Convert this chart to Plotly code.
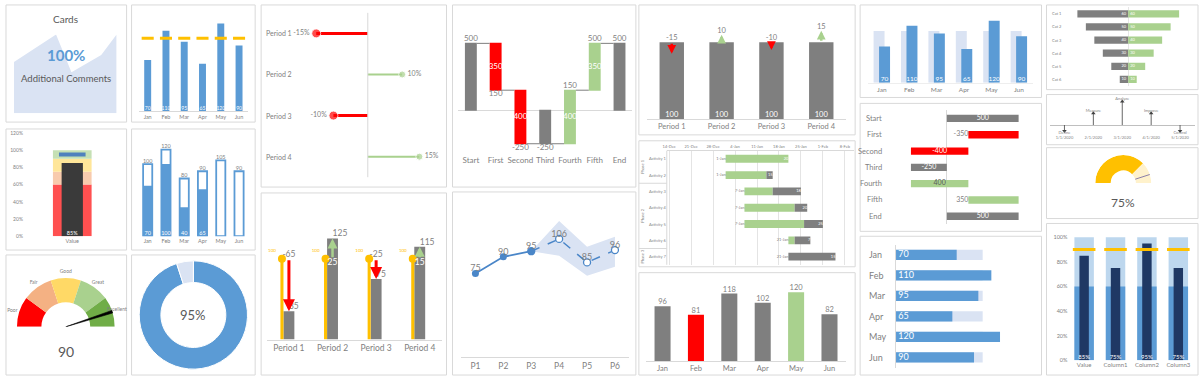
import numpy as np
import pandas as pd
import plotly.graph_objects as go

W, H = 1200, 380
FONT = "Lato"
TXT = "#595959"
TXT2 = "#7f7f7f"
LINE = "#d9d9d9"
BLUE = "#5b9bd5"
PALE = "#dae3f3"
RED = "#ff0000"
GREEN = "#a9d18e"
GREY = "#7f7f7f"
GOLD = "#ffc000"

# ------------------------------------------------------------------ data
card_title = "Cards"
card_value = "100%"
card_comment = "Additional Comments"
card_x = [0, 41, 56, 85, 100]
card_y = [65, 100, 52, 74, 100]

months = ["Jan", "Feb", "Mar", "Apr", "May", "Jun"]
month_values = [70, 110, 95, 65, 120, 90]
month_target = 100

thermo_label = "Value"
thermo_bands = [0, 0.60, 0.75, 0.90, 1.00]
thermo_band_colors = ["#ff5050", "#f8cbad", "#ffe699", "#c5e0b4"]
thermo_value = 0.85
thermo_target = 0.95
thermo_ticks = [0, 0.2, 0.4, 0.6, 0.8, 1.0, 1.2]

outline_totals = [100, 120, 80, 90, 105, 90]
outline_filled = [70, 100, 40, 65, 0, 0]

gauge_labels = ["Poor", "Fair", "Good", "Great", "Excellent"]
gauge_colors = ["#ff0000", "#f4b183", "#ffd966", "#a9d18e", "#70ad47"]
gauge_value = 90

donut_value = 95

periods = ["Period 1", "Period 2", "Period 3", "Period 4"]
lollipop_values = [-0.15, 0.10, -0.10, 0.15]

arrow_target = 100
arrow_actual = [35, 125, 75, 115]

wf_cats = ["Start", "First", "Second", "Third", "Fourth", "Fifth", "End"]
wf_values = [500, -350, -400, -250, 400, 350, 500]
wf_measure = ["absolute", "relative", "relative", "total", "relative", "relative", "total"]

line_cats = ["P1", "P2", "P3", "P4", "P5", "P6"]
line_actual = [75, 90, 95, None, None, None]
line_forecast = [None, None, 95, 106, 85, 96]
band_upper = [None, None, 95, 122, 99, 108]
band_lower = [None, None, 95, 91, 73, 81]

change_base = [100, 100, 100, 100]
change_delta = [-15, 10, -10, 15]

gantt_tasks = ["Activity 1", "Activity 2", "Activity 3", "Activity 4", "Activity 5", "Activity 6", "Activity 7"]
gantt_phase = ["Phase 1", "Phase 1", "Phase 2", "Phase 2", "Phase 2", "Phase 2", "Phase 3"]
gantt_start = ["2016-01-01", "2016-01-01", "2016-01-07", "2016-01-07", "2016-01-07", "2016-01-21", "2016-01-21"]
gantt_days = [20, 15, 18, 20, 25, 7, 15]
gantt_done = [20, 13, 9, 16, 19, 2, 0]
gantt_first_tick = "2015-12-14"

month_values2 = [96, 81, 118, 102, 120, 82]

funnel_cats = ["Cat 1", "Cat 2", "Cat 3", "Cat 4", "Cat 5", "Cat 6"]
funnel_left = [60, 50, 40, 30, 20, 10]
funnel_right = [60, 50, 40, 30, 20, 10]

timeline_events = ["Define", "Measure", "Analyze", "Improve", "Control"]
timeline_dates = ["1/1/2020", "2/1/2020", "3/1/2020", "4/1/2020", "5/1/2020"]
timeline_heights = [-0.3, 0.6, 1.2, 0.6, -0.3]

half_value = 75
half_target = 90

bullet_cats = ["Value", "Column1", "Column2", "Column3"]
bullet_values = [0.85, 0.75, 0.95, 0.75]
bullet_target = 0.90
bullet_band = 0.60
bullet_max = 1.00
bullet_ticks = [0, 0.2, 0.4, 0.6, 0.8, 1.0]

# ------------------------------------------------------------------ helpers
layout = {}
traces = []
annotations = []
shapes = []


def X(px):
    return px / W


def Y(py):
    return 1 - py / H


def axes(n, x0, x1, y0, y1, xr, yr, xopt=None, yopt=None):
    base = dict(showgrid=False, zeroline=False, showticklabels=False, ticks="",
                showline=False, fixedrange=True, linecolor=LINE, tickangle=0,
                tickfont=dict(size=6, color=TXT2, family=FONT))
    xs = "x" if n == 1 else f"x{n}"
    ys = "y" if n == 1 else f"y{n}"
    xa = dict(base, domain=[X(x0), X(x1)], range=xr, anchor=ys)
    ya = dict(base, domain=[Y(y1), Y(y0)], range=yr, anchor=xs)
    if xopt:
        xa.update(xopt)
    if yopt:
        ya.update(yopt)
    layout["xaxis" if n == 1 else f"xaxis{n}"] = xa
    layout["yaxis" if n == 1 else f"yaxis{n}"] = ya
    return xs, ys


def tfont(size, color=TXT2):
    return dict(size=size, color=color, family=FONT)


def ann(px, py, text, size, color=TXT, **kw):
    kw.setdefault("xanchor", "center")
    kw.setdefault("yanchor", "middle")
    annotations.append(dict(x=X(px), y=Y(py), xref="paper", yref="paper", text=text,
                            showarrow=False, font=tfont(size, color), **kw))


def label(xa, ya, x, y, text, pos, size, color=TXT2):
    traces.append(go.Scatter(x=list(x), y=list(y), text=list(text), mode="text",
                             textposition=pos, textfont=tfont(size, color),
                             xaxis=xa, yaxis=ya, cliponaxis=False, hoverinfo="skip"))


def bar(xa, ya, **kw):
    if "marker" not in kw:
        kw.setdefault("marker_line_width", 0)
    traces.append(go.Bar(xaxis=xa, yaxis=ya, hoverinfo="skip", **kw))


# panel frames
panels = [
    (2, 2, 123, 121), (128, 2, 252, 121),
    (2, 128, 123, 251), (128, 128, 252, 251),
    (2, 256, 123, 378), (128, 256, 252, 378),
    (258, 2, 444, 187), (258, 193, 444, 378),
    (450, 2, 634, 187), (450, 192, 634, 378),
    (637, 2, 854, 134), (637, 140, 854, 268), (637, 274, 854, 378),
    (859, 2, 1041, 96), (859, 102, 1041, 232), (859, 237, 1041, 378),
    (1046, 2, 1198, 88), (1046, 93, 1198, 144), (1046, 147, 1198, 219), (1046, 224, 1198, 378),
]
for (a, b, c, d) in panels:
    shapes.append(dict(type="rect", xref="paper", yref="paper", x0=X(a), x1=X(c), y0=Y(d), y1=Y(b),
                       line=dict(color=LINE, width=1), fillcolor="white", layer="below"))

# ------------------------------------------------------------------ 1 card
xa, ya = axes(1, 10, 113, 32, 112, [0, 100], [0, 100])
traces.append(go.Scatter(x=card_x, y=card_y, mode="lines", fill="tozeroy", fillcolor=PALE,
                         line=dict(width=0, color=PALE), xaxis=xa, yaxis=ya, hoverinfo="skip"))
ann(62, 16, card_title, 10, TXT)
ann(62, 53, f"<b>{card_value}</b>", 15, BLUE)
ann(62, 77, card_comment, 9.5, TXT)

# ------------------------------------------------------------------ 2 bars + target
idx6 = list(range(len(months)))
xa, ya = axes(2, 135, 245, 12, 110, [-0.5, 5.5], [0, 131.9],
              xopt=dict(showticklabels=True, tickvals=idx6, ticktext=months,
                        tickfont=tfont(5.5), showline=True))
bar(xa, ya, x=idx6, y=month_values, width=0.38, marker_color=BLUE)
tx, ty = [], []
for i in idx6:
    tx += [i - 0.33, i + 0.33, None]
    ty += [month_target, month_target, None]
traces.append(go.Scatter(x=tx, y=ty, mode="lines", line=dict(color=GOLD, width=3),
                         xaxis=xa, yaxis=ya, hoverinfo="skip"))
label(xa, ya, idx6, [0] * 6, [str(v) for v in month_values], "top center", 5, "white")

# ------------------------------------------------------------------ 3 thermometer bullet
xa, ya = axes(3, 20, 117, 132, 237, [-0.5, 0.5], [0, 1.2],
              xopt=dict(showticklabels=True, tickvals=[0], ticktext=[thermo_label], tickfont=tfont(5.5)),
              yopt=dict(showticklabels=True, tickvals=thermo_ticks, tickformat=".0%", tickfont=tfont(5)))
bar(xa, ya, x=[0] * 4, y=list(np.diff(thermo_bands)), base=thermo_bands[:-1], width=0.4,
    marker_color=thermo_band_colors)
bar(xa, ya, x=[0], y=[thermo_value], width=0.22, marker_color="#3a3a3a")
traces.append(go.Scatter(x=[0], y=[thermo_target], mode="markers", xaxis=xa, yaxis=ya,
                         marker=dict(symbol="line-ew", size=19, line=dict(width=4, color="#4f81bd")),
                         hoverinfo="skip"))
label(xa, ya, [0], [0], [f"{thermo_value:.0%}"], "top center", 5.5, "white")

# ------------------------------------------------------------------ 4 outlined bars
xa, ya = axes(4, 135, 245, 135, 237, [-0.5, 5.5], [0, 139],
              xopt=dict(showticklabels=True, tickvals=idx6, ticktext=months, tickfont=tfont(5.5)))
bar(xa, ya, x=idx6, y=outline_filled, width=0.5, marker_color=BLUE)
bar(xa, ya, x=idx6, y=outline_totals, width=0.5,
    marker=dict(color="rgba(0,0,0,0)", line=dict(color=BLUE, width=1.8)))
label(xa, ya, idx6, outline_totals, [str(v) for v in outline_totals], "top center", 5.5, TXT2)
label(xa, ya, idx6, [0] * 6, [str(v) if v else "" for v in outline_filled], "top center", 5.5, "white")

# ------------------------------------------------------------------ 5 gauge
seg = 180 / len(gauge_labels)
theta = [(i + 0.5) * seg for i in range(len(gauge_labels))]
layout["polar"] = dict(domain=dict(x=[X(0), X(124)], y=[Y(329), Y(267)]), sector=[0, 180],
                       bgcolor="rgba(0,0,0,0)",
                       radialaxis=dict(visible=False, range=[0, 1.25]),
                       angularaxis=dict(visible=False, direction="clockwise", rotation=180))
traces.append(go.Barpolar(r=[0.5] * 5, base=0.5, theta=theta, width=[seg] * 5,
                          marker=dict(color=gauge_colors, line=dict(width=0)), subplot="polar",
                          hoverinfo="skip"))
g_r = [1.04, 1.12, 1.12, 1.12, 1.1]
g_pos = ["middle left", "middle center", "middle center", "middle center", "middle center"]
traces.append(go.Scatterpolar(r=g_r, theta=theta, text=gauge_labels, mode="text", textposition=g_pos,
                              textfont=tfont(5), subplot="polar", cliponaxis=False, hoverinfo="skip"))
nt = gauge_value / 100 * 180
traces.append(go.Scatterpolar(r=[0, 1, 1, 0], theta=[nt, nt - 1.6, nt + 1.6, nt], mode="lines",
                              fill="toself", fillcolor="#000000", line=dict(color="#000000", width=0.6),
                              subplot="polar", hoverinfo="skip"))
ann(62, 354, str(gauge_value), 14, TXT)

# ------------------------------------------------------------------ 6 donut
traces.append(go.Pie(values=[donut_value, 100 - donut_value], hole=0.6, sort=False,
                     direction="clockwise", rotation=0, textinfo="none", hoverinfo="skip",
                     marker=dict(colors=[BLUE, PALE], line=dict(color="white", width=1)),
                     domain=dict(x=[X(135), X(245)], y=[Y(372), Y(262)]), showlegend=False))
ann(190, 317, f"{donut_value}%", 13, TXT)

# ------------------------------------------------------------------ 7 lollipop
xa, ya = axes(7, 280, 440, 10, 177, [-0.2464, 0.2174], [3.5, -0.5])
shapes.append(dict(type="line", xref=xa, yref=f"{ya} domain", x0=0, x1=0, y0=0, y1=1,
                   line=dict(color=LINE, width=1)))
for i, v in enumerate(lollipop_values):
    neg = v < 0
    col = RED if neg else GREEN
    traces.append(go.Scatter(x=[0, v], y=[i, i], mode="lines+markers+text",
                             line=dict(color=col, width=3 if neg else 2),
                             marker=dict(size=[0, 9 if neg else 7], color=col),
                             text=["", f"{v:.0%}"], textposition="middle left" if neg else "middle right",
                             textfont=tfont(7), xaxis=xa, yaxis=ya, cliponaxis=False, hoverinfo="skip"))
    annotations.append(dict(x=X(261), y=i, xref="paper", yref=ya, text=periods[i], showarrow=False,
                            xanchor="left", font=tfont(7, TXT2)))

# ------------------------------------------------------------------ 8 target vs actual with arrows
idx4 = list(range(len(periods)))
xa, ya = axes(8, 264, 439, 200, 342, [-0.5, 3.5], [0, 173],
              xopt=dict(showticklabels=True, tickvals=idx4, ticktext=periods, tickfont=tfont(8.5),
                        showline=True))
bar(xa, ya, x=idx4, y=arrow_actual, width=0.25, marker_color=GREY)
tgt_x = [i - 0.16 for i in idx4]
bar(xa, ya, x=tgt_x, y=[arrow_target] * 4, width=0.07, marker_color=GOLD)
traces.append(go.Scatter(x=tgt_x, y=[arrow_target] * 4, mode="markers+text", text=[str(arrow_target)] * 4,
                         textposition="top left", textfont=tfont(4.5, GOLD),
                         marker=dict(size=8, color=GOLD), xaxis=xa, yaxis=ya, cliponaxis=False,
                         hoverinfo="skip"))
for i, a in enumerate(arrow_actual):
    d = a - arrow_target
    up = d > 0
    annotations.append(dict(x=i, y=a, ax=i, ay=arrow_target, xref=xa, yref=ya, axref=xa, ayref=ya,
                            text="", showarrow=True, arrowhead=2, arrowsize=0.8,
                            arrowwidth=2.5 if up else 3, arrowcolor=GREEN if up else RED, standoff=0))
    if up:
        label(xa, ya, [i], [arrow_target], [str(d)], "bottom center", 8.5, "white")
    else:
        label(xa, ya, [i], [arrow_target], [str(d)], "top center", 8.5, TXT2)
    label(xa, ya, [i], [a], [str(a)], "top right", 8.5, TXT2)

# ------------------------------------------------------------------ 9 waterfall
idx7 = list(range(len(wf_cats)))
run, starts, ends = 0, [], []
for v, m in zip(wf_values, wf_measure):
    if m == "absolute":
        s, run = 0, v
    elif m == "relative":
        s, run = run, run + v
    else:
        s = 0
    starts.append(s)
    ends.append(run)
xa, ya = axes(9, 456, 630, 10, 153, [-0.5, 6.5], [-323.5, 728],
              xopt=dict(showticklabels=True, tickvals=idx7, ticktext=wf_cats, tickfont=tfont(8)),
              yopt=dict(zeroline=True, zerolinecolor=LINE, zerolinewidth=1))
traces.append(go.Waterfall(x=idx7, y=wf_values, measure=wf_measure, width=0.48, xaxis=xa, yaxis=ya,
                           increasing=dict(marker=dict(color=GREEN)),
                           decreasing=dict(marker=dict(color=RED)),
                           totals=dict(marker=dict(color=GREY)),
                           connector=dict(line=dict(color=GREY, width=1)),
                           textinfo="none", hoverinfo="skip"))
label(xa, ya, idx7, ends, [str(e) for e in ends],
      ["top center" if e >= s else "bottom center" for s, e in zip(starts, ends)], 8, TXT2)
mid_i = [i for i, m in enumerate(wf_measure) if m == "relative"]
label(xa, ya, mid_i, [(starts[i] + ends[i]) / 2 for i in mid_i], [str(abs(wf_values[i])) for i in mid_i],
      "middle center", 8, "white")

# ------------------------------------------------------------------ 10 line with forecast band
xa, ya = axes(10, 459, 627, 200, 360, [-0.5, 5.5], [0, 141],
              xopt=dict(showticklabels=True, tickvals=idx6, ticktext=line_cats, tickfont=tfont(8.5),
                        showline=True))
bi = [i for i, u in enumerate(band_upper) if u is not None]
traces.append(go.Scatter(x=bi + bi[::-1], y=[band_upper[i] for i in bi] + [band_lower[i] for i in bi[::-1]],
                         fill="toself", fillcolor=PALE, line=dict(width=0), mode="lines",
                         xaxis=xa, yaxis=ya, hoverinfo="skip"))
LB = "#4a86c8"
traces.append(go.Scatter(x=idx6, y=line_forecast, mode="lines+markers", line=dict(color=LB, width=1.5, dash="dash"),
                         marker=dict(size=7, color="white", line=dict(color=LB, width=1.3)),
                         xaxis=xa, yaxis=ya, hoverinfo="skip"))
traces.append(go.Scatter(x=idx6, y=line_actual, mode="lines+markers", line=dict(color=LB, width=1.8),
                         marker=dict(size=7, color=LB), xaxis=xa, yaxis=ya, hoverinfo="skip"))
allv = [a if a is not None else f for a, f in zip(line_actual, line_forecast)]
label(xa, ya, idx6, allv, [str(v) for v in allv], "top center", 9, TXT2)

# ------------------------------------------------------------------ 11 bars with change arrows
xa, ya = axes(11, 645, 845, 8, 118, [-0.5, 3.5], [0, 141],
              xopt=dict(showticklabels=True, tickvals=idx4, ticktext=periods, tickfont=tfont(7.5),
                        showline=True))
bar(xa, ya, x=idx4, y=change_base, width=0.49, marker_color=GREY)
label(xa, ya, idx4, [0] * 4, [str(v) for v in change_base], "top center", 7.5, "white")
for i, (b, d) in enumerate(zip(change_base, change_delta)):
    up = d > 0
    annotations.append(dict(x=i, y=b + d, ax=i, ay=b, xref=xa, yref=ya, axref=xa, ayref=ya,
                            text="", showarrow=True, arrowhead=2, arrowsize=0.7, arrowwidth=2.5,
                            arrowcolor=GREEN if up else RED, standoff=0))
    label(xa, ya, [i], [max(b, b + d)], [str(d)], "top center", 7.5, TXT2)

# ------------------------------------------------------------------ 12 gantt
DAY = 86400000
rows7 = list(range(len(gantt_tasks)))
st = pd.to_datetime(gantt_start)
mid = st + pd.to_timedelta(gantt_done, unit="D")
en = st + pd.to_timedelta(gantt_days, unit="D")
xa, ya = axes(12, 665, 853, 150, 266, ["2015-12-13 06:00", "2016-02-10 23:00"], [6.5, -0.5],
              xopt=dict(type="date", side="top", showticklabels=True, tickformat="%-d-%b",
                        tick0=gantt_first_tick, dtick=7 * DAY, showgrid=True, gridcolor="#e4e4e4",
                        gridwidth=1, tickfont=tfont(4), showline=True))
bar(xa, ya, orientation="h", y=rows7, x=[d * DAY for d in gantt_done], base=st.strftime("%Y-%m-%d"),
    width=0.48, marker_color=GREEN)
bar(xa, ya, orientation="h", y=rows7, x=[(t - d) * DAY for t, d in zip(gantt_days, gantt_done)],
    base=mid.strftime("%Y-%m-%d"), width=0.48, marker_color=GREY)
label(xa, ya, en.strftime("%Y-%m-%d"), rows7, [str(d) for d in gantt_days], "middle left", 4, "white")
label(xa, ya, st.strftime("%Y-%m-%d"), rows7, [s.strftime("%-d-%b") for s in st], "middle left", 4, TXT2)
for i, t in enumerate(gantt_tasks):
    annotations.append(dict(x=X(656), y=i, xref="paper", yref=ya, text=t, showarrow=False,
                            xanchor="center", font=tfont(4, TXT2)))
phases = list(dict.fromkeys(gantt_phase))
for p in phases:
    r = [i for i, q in enumerate(gantt_phase) if q == p]
    annotations.append(dict(x=X(641), y=float(np.mean(r)), xref="paper", yref=ya, text=p, showarrow=False,
                            xanchor="center", textangle=-90, font=tfont(4, TXT2)))
for i in range(1, len(gantt_phase)):
    if gantt_phase[i] != gantt_phase[i - 1]:
        shapes.append(dict(type="line", xref="paper", yref=ya, x0=X(637), x1=X(665), y0=i - 0.5, y1=i - 0.5,
                           line=dict(color=LINE, width=1)))
shapes.append(dict(type="line", xref="paper", yref="paper", x0=X(665), x1=X(665), y0=Y(266), y1=Y(150),
                   line=dict(color=LINE, width=1)))

# ------------------------------------------------------------------ 13 highlighted bars
xa, ya = axes(13, 644, 845, 280, 364, [-0.5, 5.5], [0, 144],
              xopt=dict(showticklabels=True, tickvals=idx6, ticktext=months, tickfont=tfont(7.5),
                        showline=True))
mx, mn = max(month_values2), min(month_values2)
cols13 = [GREEN if v == mx else RED if v == mn else GREY for v in month_values2]
bar(xa, ya, x=idx6, y=month_values2, width=0.48, marker_color=cols13)
label(xa, ya, idx6, month_values2, [str(v) for v in month_values2], "top center", 7.5, TXT2)

# ------------------------------------------------------------------ 14 bars over target background
xa, ya = axes(14, 867, 1032, 8, 81, [-0.5, 5.5], [0, 139],
              xopt=dict(showticklabels=True, tickvals=idx6, ticktext=months, tickfont=tfont(6.5),
                        showline=True, linecolor="#eeeeee"))
bar(xa, ya, x=[i - 0.1 for i in idx6], y=[month_target] * 6, width=0.4, marker_color=PALE)
bar(xa, ya, x=[i + 0.1 for i in idx6], y=month_values, width=0.4, marker_color=BLUE)
label(xa, ya, [i + 0.1 for i in idx6], [0] * 6, [str(v) for v in month_values], "top center", 6.5, "white")

# ------------------------------------------------------------------ 15 horizontal waterfall
xa, ya = axes(15, 895, 1035, 109, 225, [-354, 618], [6.5, -0.5],
              xopt=dict(zeroline=True, zerolinecolor=LINE, zerolinewidth=1))
traces.append(go.Waterfall(orientation="h", y=idx7, x=wf_values, measure=wf_measure, width=0.45,
                           xaxis=xa, yaxis=ya,
                           increasing=dict(marker=dict(color=GREEN)),
                           decreasing=dict(marker=dict(color=RED)),
                           totals=dict(marker=dict(color=GREY)),
                           connector=dict(visible=False), textinfo="none", hoverinfo="skip"))
hw_side = ["inside", "left", "inside", "inside", "inside", "left", "inside"]
hw_txtcol = ["white", TXT2, "white", "white", "#595959", TXT2, "white"]
step_txt = [str(e) if m != "relative" else str(v) for v, e, m in zip(wf_values, ends, wf_measure)]
for i in idx7:
    if hw_side[i] == "inside":
        label(xa, ya, [(starts[i] + ends[i]) / 2], [i], [step_txt[i]], "middle center", 7, hw_txtcol[i])
    else:
        label(xa, ya, [min(starts[i], ends[i])], [i], [step_txt[i]], "middle left", 7, hw_txtcol[i])
    annotations.append(dict(x=X(883), y=i, xref="paper", yref=ya, text=wf_cats[i], showarrow=False,
                            xanchor="right", font=tfont(7.5, TXT2)))

# ------------------------------------------------------------------ 16 horizontal bars with background
xa, ya = axes(16, 895, 1035, 245.6, 370.4, [0, 161], [5.5, -0.5],
              yopt=dict(showline=True, linecolor=LINE))
bar(xa, ya, orientation="h", y=idx6, x=[month_target] * 6, width=0.5, marker_color=PALE)
bar(xa, ya, orientation="h", y=idx6, x=month_values, width=0.5, marker_color=BLUE)
label(xa, ya, [0] * 6, idx6, [" " + str(v) for v in month_values], "middle right", 9, "white")
for i, m in enumerate(months):
    annotations.append(dict(x=X(866), y=i, xref="paper", yref=ya, text=m, showarrow=False,
                            xanchor="left", font=tfont(9, TXT2)))

# ------------------------------------------------------------------ 17 butterfly
idxf = list(range(len(funnel_cats)))
xa, ya = axes(17, 1070, 1190, 4.3, 84.3, [-68.2, 72.9], [5.5, -0.5],
              xopt=dict(zeroline=True, zerolinecolor="#e6e6e6", zerolinewidth=1))
bar(xa, ya, orientation="h", y=idxf, x=[-v for v in funnel_left], width=0.55, marker_color=GREY)
bar(xa, ya, orientation="h", y=idxf, x=funnel_right, width=0.55, marker_color=GREEN)
label(xa, ya, [0] * 6, idxf, [f"{v}  " for v in funnel_left], "middle left", 4, "white")
label(xa, ya, [0] * 6, idxf, [f"  {v}" for v in funnel_right], "middle right", 4, "white")
for i, c in enumerate(funnel_cats):
    annotations.append(dict(x=X(1049), y=i, xref="paper", yref=ya, text=c, showarrow=False,
                            xanchor="left", font=tfont(4, TXT2)))

# ------------------------------------------------------------------ 18 timeline
idxt = list(range(len(timeline_events)))
xa, ya = axes(18, 1049.5, 1194.5, 96, 142, [-0.5, 4.5], [-0.9, 1.4],
              yopt=dict(zeroline=True, zerolinecolor="#bfbfbf", zerolinewidth=1))
sx, sy = [], []
for i, h in enumerate(timeline_heights):
    sx += [i, i, None]
    sy += [0, h, None]
traces.append(go.Scatter(x=sx, y=sy, mode="lines", line=dict(color="#404040", width=0.8),
                         xaxis=xa, yaxis=ya, hoverinfo="skip"))
traces.append(go.Scatter(x=idxt, y=timeline_heights, mode="markers", xaxis=xa, yaxis=ya, hoverinfo="skip",
                         marker=dict(size=4, color="#404040",
                                     symbol=["triangle-up" if h > 0 else "triangle-down" for h in timeline_heights])))
label(xa, ya, idxt, timeline_heights, timeline_events,
      ["top center" if h > 0 else "bottom center" for h in timeline_heights], 4, TXT2)
label(xa, ya, idxt, [-0.65] * 5, timeline_dates, "middle center", 4, TXT2)

# ------------------------------------------------------------------ 19 half gauge
layout["polar2"] = dict(domain=dict(x=[X(1094.5), X(1151.5)], y=[Y(183), Y(154.5)]), sector=[0, 180],
                        bgcolor="rgba(0,0,0,0)",
                        radialaxis=dict(visible=False, range=[0, 1]),
                        angularaxis=dict(visible=False, direction="clockwise", rotation=180))
hv = half_value / 100 * 180
traces.append(go.Barpolar(r=[0.55, 0.55], base=0.45, theta=[hv / 2, (hv + 180) / 2], width=[hv, 180 - hv],
                          marker=dict(color=[GOLD, "#fff2cc"], line=dict(width=0)), subplot="polar2",
                          hoverinfo="skip"))
ht = half_target / 100 * 180
traces.append(go.Scatterpolar(r=[0.45, 1], theta=[ht, ht], mode="lines", line=dict(color="#8a7fa8", width=1),
                              subplot="polar2", hoverinfo="skip"))
ann(1123, 203, f"{half_value}%", 12, TXT)

# ------------------------------------------------------------------ 20 bullet columns
xa, ya = axes(20, 1068, 1194, 232, 363, [-0.5, 3.5], [0, 1.048],
              xopt=dict(showticklabels=True, tickvals=idx4, ticktext=bullet_cats, tickfont=tfont(6)),
              yopt=dict(showticklabels=True, tickvals=bullet_ticks, tickformat=".0%", tickfont=tfont(5.5)))
bar(xa, ya, x=idx4, y=[bullet_max] * 4, width=0.62, marker_color="#bdd7ee")
bar(xa, ya, x=idx4, y=[bullet_band] * 4, width=0.62, marker_color="#5b9bd5")
bar(xa, ya, x=idx4, y=bullet_values, width=0.3, marker_color="#1f3864")
bx, by = [], []
for i in idx4:
    bx += [i - 0.36, i + 0.36, None]
    by += [bullet_target, bullet_target, None]
traces.append(go.Scatter(x=bx, y=by, mode="lines", line=dict(color=GOLD, width=3),
                         xaxis=xa, yaxis=ya, hoverinfo="skip"))
label(xa, ya, idx4, [0] * 4, [f"{v:.0%}" for v in bullet_values], "top center", 6, "white")

# ------------------------------------------------------------------ figure
layout.update(dict(width=W, height=H, margin=dict(l=0, r=0, t=0, b=0), paper_bgcolor="white",
                   plot_bgcolor="rgba(0,0,0,0)", showlegend=False, barmode="overlay",
                   hovermode=False, font=dict(family=FONT, color=TXT),
                   annotations=annotations, shapes=shapes))
fig = go.Figure(data=traces, layout=go.Layout(**layout))
fig.write_html("out.html", config={"displayModeBar": False, "staticPlot": True},
               post_script="document.body.style.margin='0px';document.body.style.overflow='hidden';")
